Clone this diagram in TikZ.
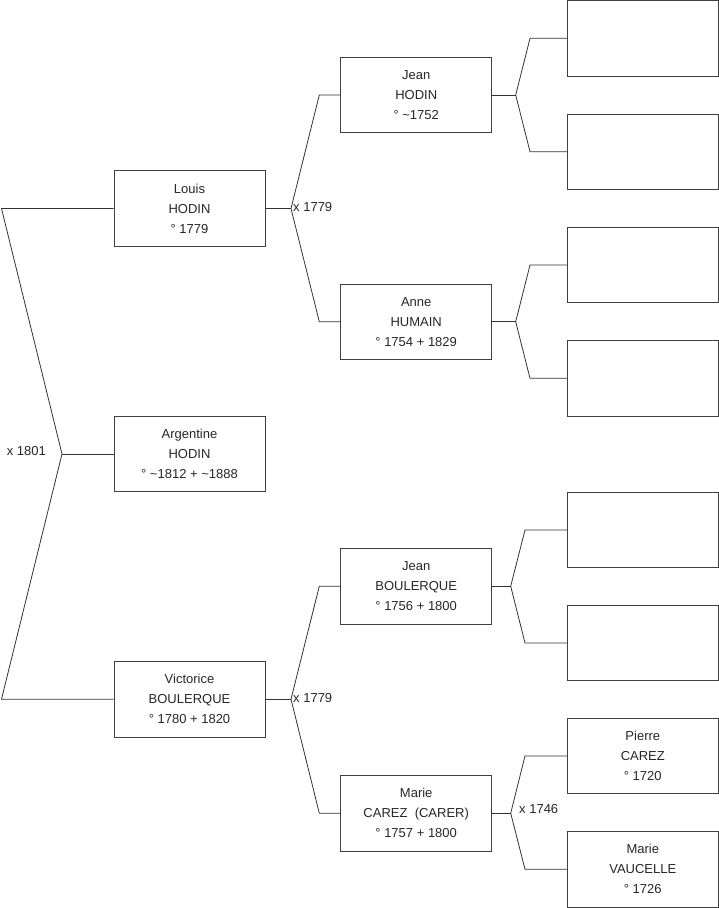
\documentclass[tikz,border=0pt]{standalone}
\usepackage{fontspec}
\setmainfont{Liberation Sans}
\begin{document}
\begin{tikzpicture}[x=1pt,y=-1pt,
  person/.style={draw=black!75,line width=0.8pt,minimum width=151pt,minimum height=75.5pt,inner sep=0pt,align=center,font=\fontsize{13}{20}\selectfont,text=black!85},
  link/.style={draw=black!80,line width=0.8pt},
  marr/.style={font=\fontsize{13}{15}\selectfont,text=black!85,inner sep=1pt}]
\useasboundingbox (0,0) rectangle (719,908);
% column 1
\node[person] (louis) at (189.5,208.5) {Louis\\HODIN\\° 1779};
\node[person] (arg) at (189.5,454) {Argentine\\HODIN\\° \textasciitilde1812 + \textasciitilde1888};
\node[person] (vic) at (189.5,699.2) {Victorice\\BOULERQUE\\° 1780 + 1820};
% column 2
\node[person] (jean) at (416.2,95) {Jean\\HODIN\\° \textasciitilde1752};
\node[person] (anne) at (416.2,321.7) {Anne\\HUMAIN\\° 1754 + 1829};
\node[person] (jeanb) at (416.2,586.2) {Jean\\BOULERQUE\\° 1756 + 1800};
\node[person] (marie) at (416.2,813.2) {Marie\\CAREZ\ \ (CARER)\\° 1757 + 1800};
% column 3
\node[person] (p1) at (642.8,38.3) {};
\node[person] (p2) at (642.8,151.7) {};
\node[person] (p3) at (642.8,265) {};
\node[person] (p4) at (642.8,378.3) {};
\node[person] (p5) at (642.8,530) {};
\node[person] (p6) at (642.8,643) {};
\node[person] (pierre) at (642.8,756) {Pierre\\CAREZ\\° 1720};
\node[person] (mariev) at (642.8,869.3) {Marie\\VAUCELLE\\° 1726};
% left connector
\coordinate (a0) at (1.5,208.5);
\coordinate (b0) at (1.5,699.2);
\coordinate (m0) at (62,454);
\draw[link] (louis.west) -- (a0) -- (m0) -- (b0) -- (vic.west);
\draw[link] (m0) -- (arg.west);
\node[marr,anchor=east] (l0) at (47,451.5) {x 1801};
% Louis
\coordinate (m1) at (291,208.5);
\coordinate (a1) at (319.3,95);
\coordinate (b1) at (319.3,321.7);
\draw[link] (louis.east) -- (m1);
\draw[link] (jean.west) -- (a1) -- (m1) -- (b1) -- (anne.west);
\node[marr,anchor=west] (l1) at (292,207.5) {x 1779};
% Victorice
\coordinate (m2) at (291,699.2);
\coordinate (a2) at (319.3,586.2);
\coordinate (b2) at (319.3,813.2);
\draw[link] (vic.east) -- (m2);
\draw[link] (jeanb.west) -- (a2) -- (m2) -- (b2) -- (marie.west);
\node[marr,anchor=west] (l2) at (292,698.2) {x 1779};
% Jean HODIN
\coordinate (m3) at (515.7,95);
\coordinate (a3) at (530,38.3);
\coordinate (b3) at (530,151.7);
\draw[link] (jean.east) -- (m3);
\draw[link] (p1.west) -- (a3) -- (m3) -- (b3) -- (p2.west);
% Anne
\coordinate (m4) at (515.7,321.7);
\coordinate (a4) at (530,265);
\coordinate (b4) at (530,378.3);
\draw[link] (anne.east) -- (m4);
\draw[link] (p3.west) -- (a4) -- (m4) -- (b4) -- (p4.west);
% Jean BOULERQUE
\coordinate (m5) at (510.7,586.2);
\coordinate (a5) at (525,530);
\coordinate (b5) at (525,643);
\draw[link] (jeanb.east) -- (m5);
\draw[link] (p5.west) -- (a5) -- (m5) -- (b5) -- (p6.west);
% Marie CAREZ
\coordinate (m6) at (510.7,813.2);
\coordinate (a6) at (525,756);
\coordinate (b6) at (525,869.3);
\draw[link] (marie.east) -- (m6);
\draw[link] (pierre.west) -- (a6) -- (m6) -- (b6) -- (mariev.west);
\node[marr,anchor=west] (l3) at (518,809.5) {x 1746};
\end{tikzpicture}
\end{document}
